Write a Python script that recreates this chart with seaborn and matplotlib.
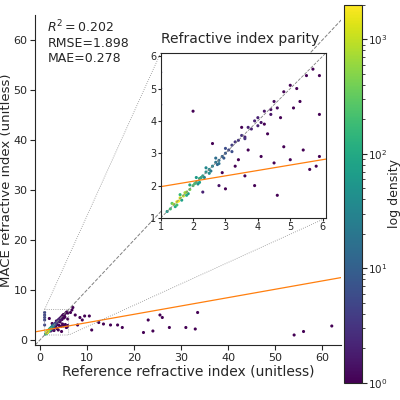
import numpy as np
import matplotlib.pyplot as plt
import seaborn as sns
from matplotlib.colors import LogNorm

# points (reference, predicted, local density)
ref = [1.2, 1.3, 1.4, 1.5, 1.55, 1.6, 1.7, 1.75, 1.8, 1.9, 2.0, 2.05, 2.1, 2.2, 2.25, 2.3, 2.4, 2.5,
       2.6, 2.7, 2.8, 2.9, 3.0, 3.1, 1.45, 1.65, 1.85, 2.15, 2.35, 2.55, 2.75, 2.95, 3.2, 3.3, 3.4,
       3.5, 3.6, 3.7, 3.8, 3.9, 4.0, 4.1, 4.2, 4.4, 4.5, 4.6, 4.8, 5.0, 5.2, 5.5, 5.7, 5.9, 2.0,
       2.6, 2.9, 3.0, 3.3, 3.6, 3.9, 4.1, 4.5, 4.6, 5.0, 5.4, 5.6, 5.9, 5.9, 3.5, 4.2, 4.7, 5.3,
       1.0, 1.0, 1.0, 1.0, 1.0, 3.4, 3.7, 4.3, 4.8, 5.1, 5.8, 2.3, 2.8,
       1.35, 1.6, 1.9, 2.1, 2.4, 2.7, 3.0, 1.5, 1.8, 2.2, 2.5, 2.8, 3.2, 3.6, 4.0, 4.4,
       7.5, 8.5, 9.5, 10.5, 11.0, 12.5, 13.5, 15.0, 16.5, 17.5, 22.0, 23.0, 24.0, 25.5, 26.0,
       27.5, 31.0, 33.0, 33.5, 54.0, 56.0, 62.0, 7.0, 8.0, 9.0, 6.5, 6.8]
pred = [1.2, 1.28, 1.42, 1.5, 1.52, 1.62, 1.68, 1.78, 1.8, 1.88, 2.0, 2.06, 2.1, 2.22, 2.25, 2.3, 2.42,
        2.5, 2.6, 2.72, 2.78, 2.9, 3.0, 3.1, 1.35, 1.55, 1.75, 2.05, 2.25, 2.45, 2.65, 2.85, 3.25,
        3.35, 3.4, 3.55, 3.5, 3.8, 3.75, 4.0, 4.1, 3.95, 4.3, 4.35, 4.6, 4.4, 4.9, 5.1, 5.0, 5.4,
        5.6, 5.4, 4.3, 3.3, 2.4, 1.9, 2.6, 2.3, 2.0, 2.9, 2.7, 1.7, 2.8, 3.1, 2.5, 2.9, 4.2, 3.8,
        3.9, 4.1, 4.6, 3.0, 4.0, 4.5, 5.0, 5.5, 2.8, 3.1, 3.6, 3.2, 4.4, 2.6, 1.8, 2.0,
        1.45, 1.72, 2.02, 2.25, 2.55, 2.85, 3.15, 1.4, 1.7, 2.1, 2.38, 2.68, 3.05, 3.45, 3.85, 4.2,
        5.0, 4.5, 4.8, 4.8, 2.0, 3.5, 3.2, 3.0, 3.0, 2.5, 1.5, 4.0, 1.8, 5.0, 4.5,
        2.5, 2.5, 2.2, 5.5, 1.0, 1.7, 2.8, 6.5, 3.0, 4.0, 5.5, 6.0]
dens = [60, 200, 700, 1500, 1800, 1200, 900, 700, 500, 400, 250, 200, 160, 120, 100, 80, 50, 40,
        30, 20, 15, 10, 8, 5, 100, 80, 60, 40, 30, 20, 12, 8, 4, 3, 3, 3, 2, 2, 2, 2, 2, 1.5, 1.5,
        1.3, 1.2, 1.2, 1, 1, 1, 1, 1, 1, 1, 1, 1, 1, 1, 1, 1, 1, 1, 1, 1, 1, 1, 1, 1, 1, 1, 1, 1,
        5, 5, 5, 5, 5, 1, 1, 1, 1, 1, 1, 2, 1.5,
        300, 150, 90, 60, 35, 15, 6, 200, 120, 70, 40, 18, 6, 3, 2, 1.5,
        1, 1, 1, 1, 1, 1, 1, 1, 1, 1, 1, 1, 1, 1, 1, 1, 1, 1, 1, 1, 1, 1, 1, 1, 1, 1, 1]
fit_slope, fit_intercept = 0.167, 1.80
stats_text = "$R^2 = 0.202$\nRMSE=1.898\nMAE=0.278"

sns.set_style("ticks")
plt.rcParams['font.family'] = ['DejaVu Sans']
plt.rcParams['font.size'] = 9
fig = plt.figure(figsize=(4, 4), dpi=100)
ax = fig.add_axes([0.088, 0.1375, 0.765, 0.825])
cax = fig.add_axes([0.86, 0.043, 0.045, 0.945])
norm = LogNorm(vmin=1, vmax=2000)

order = np.argsort(dens)
r, p, d = np.array(ref)[order], np.array(pred)[order], np.array(dens)[order]

sc = ax.scatter(r, p, c=d, cmap="viridis", norm=norm, s=5, linewidths=0)
ax.set_xlim(-1, 64)
ax.set_ylim(-1, 65)
ax.plot([-1, 65], [-1, 65], ls="--", color="grey", lw=0.7)
xx = np.array([-1, 64])
ax.plot(xx, fit_slope * xx + fit_intercept, color="tab:orange", lw=0.9)
sns.despine(ax=ax)
ax.set_xlabel("Reference refractive index (unitless)", fontsize=10, labelpad=1)
ax.set_ylabel("MACE refractive index (unitless)", fontsize=9.5, labelpad=0)
ax.tick_params(labelsize=8, pad=2)
ax.text(0.04, 0.99, stats_text, transform=ax.transAxes, va="top", fontsize=9)
ax.text(0.67, 0.905, "Refractive index parity", transform=ax.transAxes,
        ha="center", va="bottom", fontsize=10)

ins = ax.inset_axes([0.41, 0.385, 0.54, 0.5])
ins.scatter(r, p, c=d, cmap="viridis", norm=norm, s=5, linewidths=0)
ins.set_xlim(1, 6.1)
ins.set_ylim(1, 6.1)
ins.plot([1, 6.1], [1, 6.1], ls="--", color="grey", lw=0.6)
x2 = np.array([1, 6.1])
ins.plot(x2, fit_slope * x2 + fit_intercept, color="tab:orange", lw=0.9)
ins.tick_params(labelsize=7, length=2, pad=1)
ins.set_xticks([1, 2, 3, 4, 5, 6])
ins.set_yticks([1, 2, 3, 4, 5, 6])
rect, lines = ax.indicate_inset_zoom(ins, edgecolor="grey", lw=0.6, alpha=0.9)
rect.set_linestyle(":")
for c in lines:
    c.set_linestyle(":")
    c.set_linewidth(0.6)

cb = fig.colorbar(sc, cax=cax)
cb.set_label("log density", fontsize=9, labelpad=0)
cb.ax.tick_params(labelsize=7.5, pad=1)
fig.savefig("out.png", dpi=100)
